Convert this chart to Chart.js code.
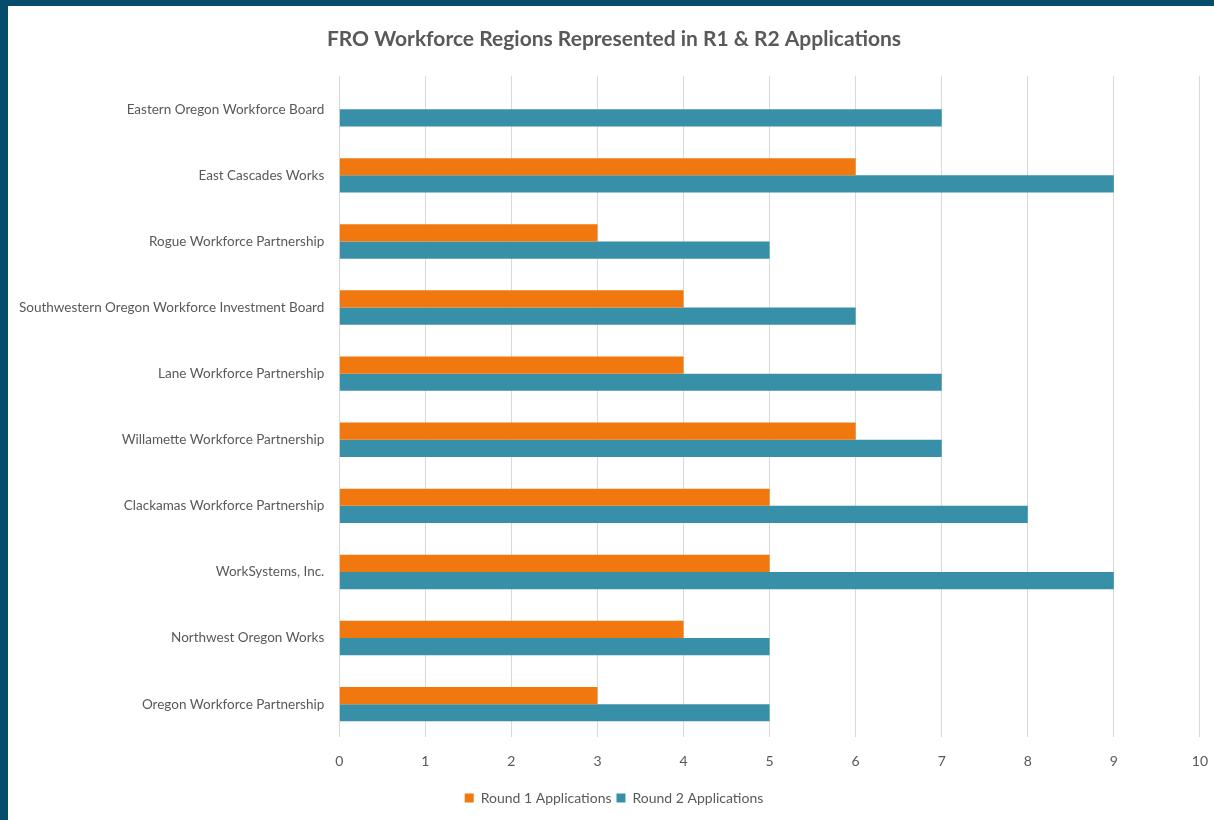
<!DOCTYPE html>
<html>
<head>
<meta charset="utf-8">
<script src="https://cdn.jsdelivr.net/npm/chart.js@4"></script>
<style>
  html, body { margin: 0; padding: 0; background: #064d6d; }
  body { width: 1214px; height: 820px; overflow: hidden; position: relative; }
  #frame { position: absolute; left: 8px; top: 6px; width: 1216px; height: 814px; background: #fff; }
</style>
</head>
<body>
<div id="frame"><canvas id="chart"></canvas></div>
<script>
// Chart data
const regions = [
  'Eastern Oregon Workforce Board',
  'East Cascades Works',
  'Rogue Workforce Partnership',
  'Southwestern Oregon Workforce Investment Board',
  'Lane Workforce Partnership',
  'Willamette Workforce Partnership',
  'Clackamas Workforce Partnership',
  'WorkSystems, Inc.',
  'Northwest Oregon Works',
  'Oregon Workforce Partnership'
];
const round1 = [null, 6, 3, 4, 4, 6, 5, 5, 4, 3];
const round2 = [7, 9, 5, 6, 7, 7, 8, 9, 5, 5];

const textColor = '#595959';
const fontFamily = 'Lato, "Open Sans", sans-serif';

new Chart(document.getElementById('chart'), {
  type: 'bar',
  data: {
    labels: regions,
    datasets: [
      {
        label: 'Round 1 Applications',
        data: round1,
        backgroundColor: '#f0780f',
        categoryPercentage: 0.52,
        barPercentage: 1.0
      },
      {
        label: 'Round 2 Applications',
        data: round2,
        backgroundColor: '#388fa8',
        categoryPercentage: 0.52,
        barPercentage: 1.0
      }
    ]
  },
  options: {
    indexAxis: 'y',
    responsive: true,
    maintainAspectRatio: false,
    animation: false,
    layout: { padding: { left: -4, right: 0, top: 14, bottom: 5 } },
    plugins: {
      title: {
        display: true,
        text: 'FRO Workforce Regions Represented in R1 & R2 Applications',
        color: textColor,
        font: { family: fontFamily, size: 21, weight: 'bold' },
        padding: { top: 7, bottom: 24 }
      },
      legend: {
        position: 'bottom',
        labels: {
          color: textColor,
          font: { family: fontFamily, size: 14 },
          boxWidth: 9,
          boxHeight: 9,
          padding: 5
        }
      },
      tooltip: { enabled: false }
    },
    scales: {
      x: {
        min: 0,
        max: 10,
        ticks: {
          stepSize: 1,
          color: textColor,
          font: { family: fontFamily, size: 14 },
          padding: 16
        },
        grid: { color: '#d9d9d9', drawTicks: false },
        border: { display: false }
      },
      y: {
        ticks: {
          color: textColor,
          font: { family: fontFamily, size: 13.5 },
          padding: 15
        },
        grid: { display: false, drawTicks: false },
        border: { display: false }
      }
    }
  }
});
</script>
</body>
</html>
